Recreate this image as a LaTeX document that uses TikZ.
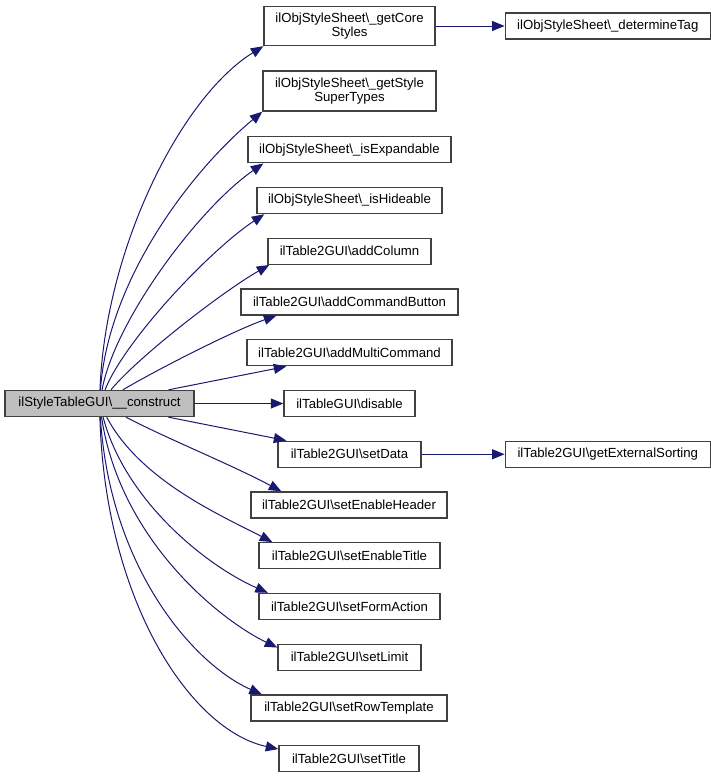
\documentclass[tikz,border=0pt]{standalone}
\usepackage{fontspec}
\setmainfont{Liberation Sans}
\usetikzlibrary{arrows.meta}
\definecolor{edgeblue}{HTML}{191970}
\definecolor{boxline}{HTML}{404040}
\definecolor{mainfill}{HTML}{BFBFBF}
\begin{document}
\begin{tikzpicture}[x=1pt,y=-1pt,
  fn/.style={draw=boxline, line width=1.4pt, fill=white, minimum height=26pt,
    inner sep=2pt, font=\fontsize{13.2}{14.5}\selectfont, align=center},
  call/.style={draw=edgeblue, line width=1pt,
    -{Triangle[length=12.5pt,width=10pt,fill=edgeblue]}}]
\useasboundingbox (0,0) rectangle (711,777);

\node[fn, fill=mainfill, minimum width=189pt] (main) at (99.5,403.5) {ilStyleTableGUI\textbackslash\_\_construct};

\node[fn, minimum width=171pt, minimum height=39pt] (getcore) at (349.5,26) {ilObjStyleSheet\textbackslash\_getCore\\Styles};
\node[fn, minimum width=205pt] (dettag) at (607.8,26) {ilObjStyleSheet\textbackslash\_determineTag};
\node[fn, minimum width=173pt, minimum height=40pt] (getstyle) at (349.5,91) {ilObjStyleSheet\textbackslash\_getStyle\\SuperTypes};
\node[fn, minimum width=203pt] (isexp) at (349.5,149.75) {ilObjStyleSheet\textbackslash\_isExpandable};
\node[fn, minimum width=185pt] (ishide) at (349.5,200.5) {ilObjStyleSheet\textbackslash\_isHideable};
\node[fn, minimum width=163pt] (addcol) at (349.5,251.25) {ilTable2GUI\textbackslash addColumn};
\node[fn, minimum width=217pt] (addcmd) at (349.5,302) {ilTable2GUI\textbackslash addCommandButton};
\node[fn, minimum width=205pt] (addmulti) at (349.5,352.75) {ilTable2GUI\textbackslash addMultiCommand};
\node[fn, minimum width=131pt] (disable) at (349.5,403.5) {ilTableGUI\textbackslash disable};
\node[fn, minimum width=143pt] (setdata) at (349.5,454.25) {ilTable2GUI\textbackslash setData};
\node[fn, minimum width=205pt] (extsort) at (607.8,454.25) {ilTable2GUI\textbackslash getExternalSorting};
\node[fn, minimum width=196pt] (sethead) at (349,505) {ilTable2GUI\textbackslash setEnableHeader};
\node[fn, minimum width=181pt] (setentitle) at (349.5,555.75) {ilTable2GUI\textbackslash setEnableTitle};
\node[fn, minimum width=181pt] (setform) at (349.5,606.5) {ilTable2GUI\textbackslash setFormAction};
\node[fn, minimum width=143pt] (setlimit) at (349.5,657.25) {ilTable2GUI\textbackslash setLimit};
\node[fn, minimum width=196pt] (setrow) at (349,708) {ilTable2GUI\textbackslash setRowTemplate};
\node[fn, minimum width=140pt] (settitle) at (349,758.75) {ilTable2GUI\textbackslash setTitle};

\draw[call] (getcore) -- (dettag);
\draw[call] (setdata) -- (extsort);

\draw[call] (main) .. controls (105,250) and (180,98) .. (getcore.south west);
\draw[call] (main) .. controls (108,280) and (191,171) .. (getstyle.south west);
\draw[call] (main) .. controls (115,320) and (199,208) .. ([xshift=16pt]isexp.south west);
\draw[call] (main) .. controls (125,340) and (210,250) .. ([xshift=8pt]ishide.south west);
\draw[call] (main) .. controls (140,355) and (225,290) .. ([xshift=2pt]addcol.south west);
\draw[call] (main) .. controls (160,368) and (235,330) .. ([xshift=36pt]addcmd.south west);
\draw[call] (main) -- ([xshift=40pt]addmulti.south west);
\draw[call] (main) -- (disable);
\draw[call] (main) -- ([xshift=9pt]setdata.north west);
\draw[call] (main) .. controls (170,440) and (230,464) .. ([xshift=31pt]sethead.north west);
\draw[call] (main) .. controls (140,480) and (220,515) .. ([xshift=14pt]setentitle.north west);
\draw[call] (main) .. controls (125,500) and (205,565) .. ([xshift=9.5pt]setform.north west);
\draw[call] (main) .. controls (120,540) and (220,620) .. ([yshift=-4pt]setlimit.north west);
\draw[call] (main) .. controls (110,570) and (195,665) .. ([xshift=11.5pt]setrow.north west);
\draw[call] (main) .. controls (105,600) and (190,730) .. ([yshift=-4pt]settitle.north west);
\end{tikzpicture}
\end{document}
